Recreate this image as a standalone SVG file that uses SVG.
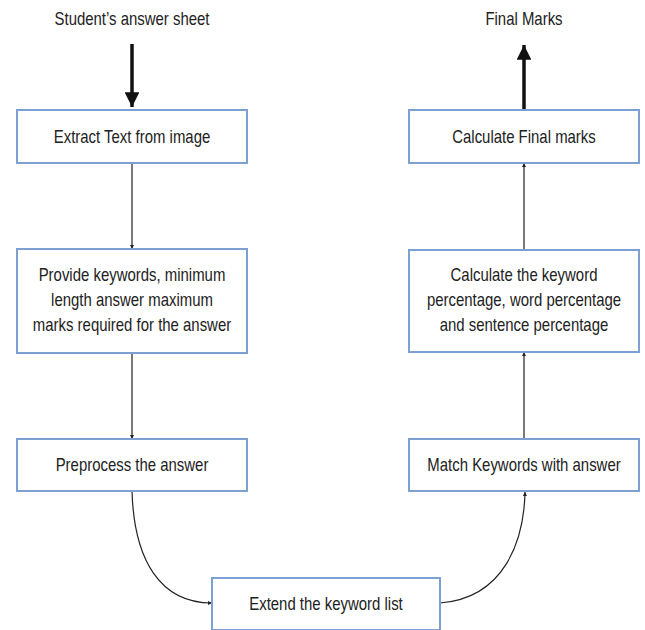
<svg xmlns="http://www.w3.org/2000/svg" width="645" height="630" viewBox="0 0 645 630">
<defs>
<style>
.box{fill:#ffffff;stroke:#7c9fd4;stroke-width:2}
.t{font-family:"Liberation Sans",Arial,sans-serif;font-size:18px;fill:#222;text-anchor:middle}
.c{fill:none;stroke:#222;stroke-width:1.2}
.thick{fill:none;stroke:#111;stroke-width:3.5}
</style>
<marker id="sm" viewBox="0 0 10 10" refX="10" refY="5" markerWidth="4" markerHeight="4" orient="auto" markerUnits="userSpaceOnUse">
<path d="M0,0 L10,5 L0,10 z" fill="#222"/>
</marker>
<marker id="big" viewBox="0 0 10 10" refX="10" refY="5" markerWidth="7.5" markerHeight="4.2" orient="auto" markerUnits="strokeWidth">
<path d="M0,0 L10,5 L0,10 z" fill="#111"/>
</marker>
</defs>
<rect width="645" height="630" fill="#ffffff"/>
<g id="connectors">
<line class="thick" x1="132" y1="44" x2="132" y2="107" marker-end="url(#big)"/>
<line class="thick" x1="524" y1="110" x2="524" y2="45" marker-end="url(#big)"/>
<line class="c" x1="132" y1="163" x2="132" y2="249" marker-end="url(#sm)"/>
<line class="c" x1="132" y1="353" x2="132" y2="439" marker-end="url(#sm)"/>
<line class="c" x1="524" y1="439" x2="524" y2="352" marker-end="url(#sm)"/>
<line class="c" x1="524" y1="250" x2="524" y2="163" marker-end="url(#sm)"/>
<path class="c" d="M132,491 C134,560 160,603 212,603" marker-end="url(#sm)"/>
<path class="c" d="M440,603 C505,598 524,540 525,492" marker-end="url(#sm)"/>
</g>
<g id="input"><text class="t" transform="matrix(0.83 0 0 1 132 0)" x="0" y="25">Student’s answer sheet</text></g>
<g id="output"><text class="t" transform="matrix(0.83 0 0 1 524 0)" x="0" y="25">Final Marks</text></g>
<g id="extract"><rect class="box" x="17" y="110" width="230" height="53"/><text class="t" transform="matrix(0.83 0 0 1 132 0)" x="0" y="143">Extract Text from image</text></g>
<g id="provide"><rect class="box" x="17" y="249" width="230" height="104"/>
<g transform="matrix(0.83 0 0 1 132 0)">
<text class="t" x="0" y="281">Provide keywords, minimum</text>
<text class="t" x="0" y="306">length answer maximum</text>
<text class="t" x="0" y="331">marks required for the answer</text></g></g>
<g id="preprocess"><rect class="box" x="17" y="439" width="230" height="52"/><text class="t" transform="matrix(0.83 0 0 1 132 0)" x="0" y="471">Preprocess the answer</text></g>
<g id="extend"><rect class="box" x="212" y="578" width="228" height="52"/><text class="t" transform="matrix(0.83 0 0 1 326 0)" x="0" y="610">Extend the keyword list</text></g>
<g id="match"><rect class="box" x="409" y="439" width="230" height="52"/><text class="t" transform="matrix(0.83 0 0 1 524 0)" x="0" y="471">Match Keywords with answer</text></g>
<g id="calcpct"><rect class="box" x="409" y="250" width="230" height="102"/>
<g transform="matrix(0.83 0 0 1 524 0)">
<text class="t" x="0" y="281">Calculate the keyword</text>
<text class="t" x="0" y="306">percentage, word percentage</text>
<text class="t" x="0" y="331">and sentence percentage</text></g></g>
<g id="final"><rect class="box" x="409" y="110" width="230" height="53"/><text class="t" transform="matrix(0.83 0 0 1 524 0)" x="0" y="143">Calculate Final marks</text></g>
</svg>
